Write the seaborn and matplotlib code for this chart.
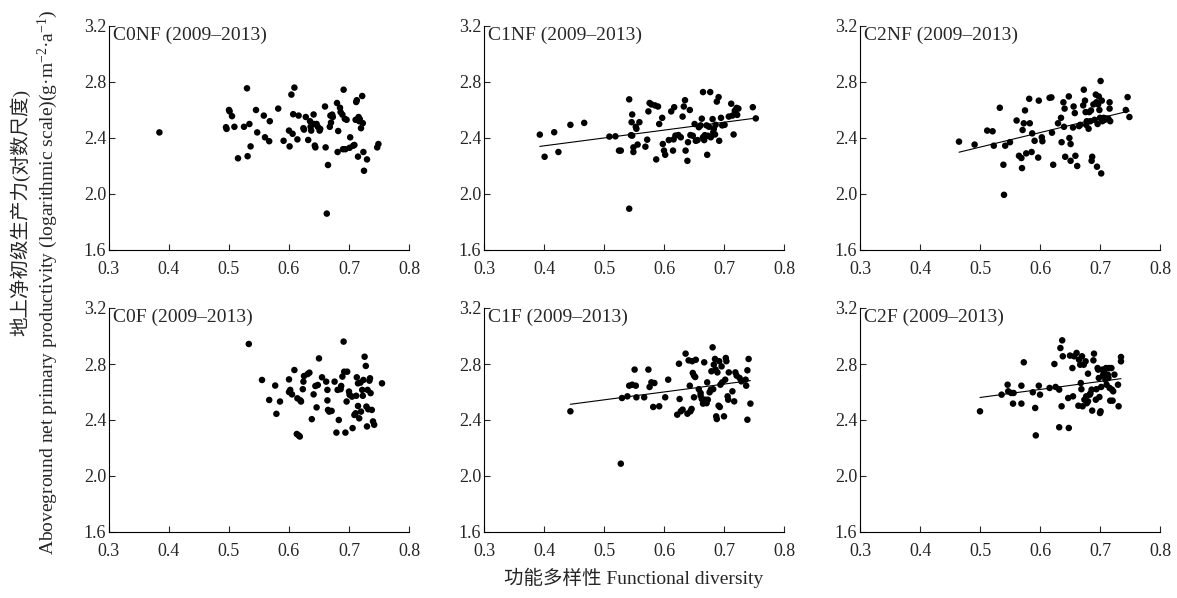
import matplotlib
matplotlib.use("Agg")
import matplotlib.pyplot as plt
import seaborn as sns

# functional diversity (x) and log ANPP (y) for each treatment
c0nf_fd = [0.384, 0.495, 0.496, 0.500, 0.501, 0.505, 0.509, 0.515, 0.525, 0.530, 0.531, 0.534, 0.536,
           0.545, 0.547, 0.558, 0.560, 0.567, 0.568, 0.582, 0.591, 0.600, 0.601, 0.604, 0.606, 0.607,
           0.609, 0.614, 0.616, 0.624, 0.625, 0.628, 0.632, 0.635, 0.636, 0.637, 0.641, 0.642, 0.643,
           0.644, 0.646, 0.648, 0.651, 0.652, 0.660, 0.661, 0.663, 0.665, 0.668, 0.669, 0.670, 0.672,
           0.673, 0.680, 0.681, 0.682, 0.685, 0.686, 0.689, 0.690, 0.691, 0.693, 0.694, 0.696, 0.701,
           0.702, 0.707, 0.709, 0.711, 0.712, 0.713, 0.715, 0.716, 0.717, 0.718, 0.720, 0.722, 0.723,
           0.724, 0.725, 0.730, 0.747, 0.749]
c0nf_anpp = [2.440, 2.477, 2.465, 2.600, 2.590, 2.556, 2.480, 2.255, 2.480, 2.755, 2.270, 2.500, 2.340,
             2.600, 2.440, 2.560, 2.405, 2.377, 2.520, 2.610, 2.380, 2.453, 2.340, 2.710, 2.430, 2.570,
             2.760, 2.390, 2.560, 2.470, 2.460, 2.550, 2.386, 2.520, 2.480, 2.453, 2.568, 2.500, 2.346,
             2.333, 2.500, 2.480, 2.453, 2.465, 2.625, 2.333, 1.860, 2.207, 2.480, 2.560, 2.510, 2.567,
             2.550, 2.650, 2.300, 2.450, 2.616, 2.585, 2.567, 2.320, 2.745, 2.537, 2.320, 2.530, 2.330,
             2.405, 2.345, 2.350, 2.530, 2.657, 2.670, 2.267, 2.550, 2.520, 2.535, 2.470, 2.700, 2.506,
             2.300, 2.166, 2.247, 2.333, 2.357]

c1nf_fd = [0.393, 0.401, 0.417, 0.424, 0.444, 0.467, 0.509, 0.519, 0.525, 0.528, 0.542, 0.542, 0.546,
           0.547, 0.545, 0.547, 0.549, 0.549, 0.553, 0.554, 0.556, 0.559, 0.569, 0.572, 0.574, 0.576,
           0.579, 0.585, 0.587, 0.590, 0.592, 0.597, 0.598, 0.600, 0.602, 0.608, 0.612, 0.615, 0.617,
           0.616, 0.619, 0.624, 0.628, 0.631, 0.633, 0.635, 0.636, 0.639, 0.640, 0.643, 0.644, 0.648,
           0.651, 0.653, 0.656, 0.658, 0.661, 0.663, 0.665, 0.665, 0.667, 0.668, 0.671, 0.672, 0.673,
           0.675, 0.677, 0.678, 0.681, 0.682, 0.683, 0.685, 0.686, 0.688, 0.691, 0.692, 0.695, 0.697,
           0.701, 0.708, 0.712, 0.714, 0.716, 0.718, 0.721, 0.722, 0.724, 0.748, 0.753]
c1nf_anpp = [2.424, 2.266, 2.441, 2.300, 2.494, 2.508, 2.410, 2.412, 2.310, 2.310, 2.676, 1.895, 2.513,
             2.568, 2.420, 2.417, 2.333, 2.300, 2.480, 2.466, 2.353, 2.513, 2.338, 2.388, 2.590, 2.650,
             2.640, 2.633, 2.247, 2.625, 2.500, 2.544, 2.357, 2.310, 2.280, 2.385, 2.590, 2.310, 2.620,
             2.390, 2.417, 2.421, 2.405, 2.553, 2.625, 2.670, 2.310, 2.237, 2.370, 2.600, 2.421, 2.416,
             2.500, 2.380, 2.385, 2.477, 2.490, 2.538, 2.728, 2.405, 2.385, 2.420, 2.490, 2.280, 2.416,
             2.480, 2.728, 2.405, 2.535, 2.440, 2.465, 2.425, 2.494, 2.660, 2.692, 2.380, 2.544, 2.490,
             2.494, 2.553, 2.645, 2.560, 2.425, 2.595, 2.615, 2.565, 2.610, 2.620, 2.540]

c2nf_fd = [0.465, 0.491, 0.512, 0.521, 0.523, 0.533, 0.539, 0.540, 0.542, 0.550, 0.561, 0.565, 0.569,
           0.570, 0.571, 0.573, 0.575, 0.577, 0.582, 0.583, 0.586, 0.587, 0.591, 0.597, 0.598, 0.603,
           0.604, 0.616, 0.619, 0.620, 0.622, 0.630, 0.635, 0.636, 0.639, 0.640, 0.641, 0.642, 0.648,
           0.649, 0.651, 0.651, 0.655, 0.656, 0.658, 0.659, 0.662, 0.665, 0.667, 0.672, 0.673, 0.675,
           0.676, 0.677, 0.678, 0.681, 0.682, 0.684, 0.685, 0.686, 0.687, 0.689, 0.691, 0.693, 0.694,
           0.695, 0.696, 0.697, 0.698, 0.699, 0.700, 0.701, 0.702, 0.703, 0.704, 0.706, 0.708, 0.710,
           0.714, 0.716, 0.716, 0.717, 0.743, 0.746, 0.749]
c2nf_anpp = [2.374, 2.353, 2.453, 2.448, 2.345, 2.616, 2.209, 1.994, 2.345, 2.370, 2.525, 2.273, 2.257,
             2.185, 2.457, 2.505, 2.597, 2.290, 2.680, 2.505, 2.300, 2.433, 2.380, 2.260, 2.667, 2.405,
             2.377, 2.687, 2.690, 2.438, 2.209, 2.505, 2.544, 2.370, 2.655, 2.480, 2.610, 2.266, 2.697,
             2.400, 2.357, 2.237, 2.475, 2.625, 2.578, 2.273, 2.200, 2.485, 2.494, 2.633, 2.745, 2.667,
             2.585, 2.494, 2.520, 2.466, 2.585, 2.520, 2.597, 2.237, 2.266, 2.640, 2.530, 2.710, 2.655,
             2.195, 2.500, 2.640, 2.697, 2.600, 2.544, 2.807, 2.147, 2.667, 2.520, 2.544, 2.530, 2.540,
             2.537, 2.610, 2.655, 2.520, 2.600, 2.692, 2.550]

c0f_fd = [0.533, 0.555, 0.567, 0.577, 0.579, 0.585, 0.600, 0.600, 0.602, 0.605, 0.609, 0.613, 0.614,
          0.616, 0.618, 0.619, 0.620, 0.623, 0.624, 0.625, 0.631, 0.634, 0.638, 0.641, 0.644, 0.646,
          0.648, 0.650, 0.655, 0.662, 0.664, 0.664, 0.665, 0.667, 0.671, 0.676, 0.679, 0.681, 0.683,
          0.686, 0.687, 0.689, 0.691, 0.692, 0.694, 0.696, 0.697, 0.700, 0.701, 0.705, 0.706, 0.709,
          0.711, 0.712, 0.713, 0.715, 0.715, 0.717, 0.719, 0.720, 0.722, 0.723, 0.724, 0.726, 0.728,
          0.729, 0.730, 0.731, 0.732, 0.734, 0.735, 0.736, 0.738, 0.740, 0.742, 0.755]
c0f_anpp = [2.943, 2.686, 2.543, 2.646, 2.444, 2.532, 2.690, 2.600, 2.615, 2.583, 2.757, 2.300, 2.555,
            2.290, 2.282, 2.540, 2.532, 2.620, 2.674, 2.714, 2.728, 2.738, 2.406, 2.583, 2.643, 2.490,
            2.650, 2.840, 2.705, 2.674, 2.615, 2.540, 2.472, 2.460, 2.465, 2.674, 2.310, 2.615, 2.400,
            2.620, 2.643, 2.710, 2.960, 2.745, 2.310, 2.532, 2.745, 2.603, 2.580, 2.567, 2.342, 2.436,
            2.448, 2.573, 2.705, 2.500, 2.662, 2.412, 2.667, 2.460, 2.615, 2.573, 2.686, 2.852, 2.786,
            2.496, 2.354, 2.615, 2.477, 2.681, 2.698, 2.592, 2.472, 2.390, 2.366, 2.662]

c1f_fd = [0.444, 0.528, 0.530, 0.539, 0.542, 0.547, 0.551, 0.553, 0.554, 0.567, 0.574, 0.576, 0.579,
          0.582, 0.584, 0.592, 0.602, 0.607, 0.622, 0.625, 0.626, 0.628, 0.631, 0.636, 0.639, 0.641,
          0.643, 0.644, 0.646, 0.647, 0.648, 0.650, 0.652, 0.653, 0.650, 0.658, 0.661, 0.661, 0.663,
          0.665, 0.667, 0.668, 0.671, 0.672, 0.673, 0.676, 0.678, 0.679, 0.681, 0.682, 0.683, 0.685,
          0.686, 0.687, 0.688, 0.689, 0.691, 0.692, 0.693, 0.694, 0.696, 0.697, 0.700, 0.702, 0.703,
          0.704, 0.706, 0.707, 0.708, 0.714, 0.717, 0.719, 0.721, 0.726, 0.729, 0.736, 0.737, 0.739,
          0.739, 0.741, 0.744]
c1f_anpp = [2.462, 2.088, 2.557, 2.569, 2.645, 2.652, 2.760, 2.645, 2.562, 2.562, 2.760, 2.636, 2.669,
            2.493, 2.664, 2.498, 2.562, 2.688, 2.438, 2.802, 2.550, 2.462, 2.474, 2.874, 2.445, 2.826,
            2.645, 2.462, 2.479, 2.820, 2.736, 2.717, 2.707, 2.830, 2.562, 2.620, 2.593, 2.574, 2.550,
            2.517, 2.812, 2.545, 2.520, 2.669, 2.545, 2.598, 2.617, 2.748, 2.919, 2.620, 2.795, 2.836,
            2.760, 2.426, 2.407, 2.740, 2.502, 2.820, 2.493, 2.652, 2.783, 2.669, 2.426, 2.688, 2.843,
            2.820, 2.569, 2.545, 2.740, 2.605, 2.533, 2.740, 2.717, 2.700, 2.676, 2.688, 2.645, 2.755,
            2.402, 2.836, 2.517]

c2f_fd = [0.500, 0.536, 0.546, 0.547, 0.552, 0.555, 0.556, 0.569, 0.569, 0.573, 0.588, 0.592, 0.593,
          0.598, 0.600, 0.616, 0.624, 0.626, 0.632, 0.632, 0.634, 0.636, 0.637, 0.638, 0.647, 0.648,
          0.650, 0.654, 0.655, 0.657, 0.661, 0.664, 0.665, 0.667, 0.668, 0.669, 0.670, 0.671, 0.673,
          0.674, 0.676, 0.677, 0.678, 0.680, 0.680, 0.683, 0.684, 0.686, 0.687, 0.689, 0.690, 0.693,
          0.694, 0.696, 0.697, 0.698, 0.699, 0.700, 0.701, 0.702, 0.704, 0.705, 0.706, 0.707, 0.709,
          0.710, 0.711, 0.713, 0.714, 0.715, 0.716, 0.717, 0.719, 0.720, 0.721, 0.722, 0.724, 0.730,
          0.731, 0.735, 0.735]
c2f_anpp = [2.462, 2.581, 2.652, 2.605, 2.593, 2.517, 2.593, 2.517, 2.645, 2.812, 2.598, 2.486, 2.290,
            2.645, 2.581, 2.629, 2.800, 2.636, 2.617, 2.348, 2.914, 2.498, 2.969, 2.855, 2.557, 2.343,
            2.860, 2.771, 2.569, 2.855, 2.879, 2.502, 2.831, 2.795, 2.664, 2.620, 2.855, 2.498, 2.795,
            2.545, 2.819, 2.569, 2.520, 2.731, 2.533, 2.581, 2.590, 2.617, 2.467, 2.826, 2.874, 2.545,
            2.620, 2.771, 2.760, 2.700, 2.564, 2.450, 2.462, 2.636, 2.760, 2.717, 2.731, 2.748, 2.688,
            2.771, 2.652, 2.724, 2.700, 2.771, 2.629, 2.538, 2.771, 2.617, 2.538, 2.605, 2.724, 2.652,
            2.498, 2.850, 2.819]

panels = [
    ("C0NF (2009–2013)", c0nf_fd, c0nf_anpp, False),
    ("C1NF (2009–2013)", c1nf_fd, c1nf_anpp, True),
    ("C2NF (2009–2013)", c2nf_fd, c2nf_anpp, True),
    ("C0F (2009–2013)", c0f_fd, c0f_anpp, False),
    ("C1F (2009–2013)", c1f_fd, c1f_anpp, True),
    ("C2F (2009–2013)", c2f_fd, c2f_anpp, True),
]

x_ticks = [0.3, 0.4, 0.5, 0.6, 0.7, 0.8]
y_ticks = [1.6, 2.0, 2.4, 2.8, 3.2]

sns.set_style("ticks")
plt.rcParams["font.family"] = ["Liberation Serif", "Noto Sans CJK SC"]
plt.rcParams["mathtext.fontset"] = "custom"
plt.rcParams["mathtext.rm"] = "Liberation Serif"
plt.rcParams["mathtext.it"] = "Liberation Serif:italic"

fig = plt.figure(figsize=(11.77, 5.98), dpi=100)

W, H = 1177, 598
lefts = [109, 484, 860]
tops = [26, 308]
aw, ah = 300, 224

for i, (title, fd, anpp, fit) in enumerate(panels):
    row, col = divmod(i, 3)
    ax = fig.add_axes([lefts[col] / W, 1 - (tops[row] + ah) / H, aw / W, ah / H])
    sns.scatterplot(x=fd, y=anpp, ax=ax, color="black", s=22, edgecolor="none")
    if fit:
        sns.regplot(x=fd, y=anpp, ax=ax, scatter=False, ci=None,
                    line_kws={"color": "black", "lw": 0.8})
    ax.set_xlim(0.3, 0.8)
    ax.set_ylim(1.6, 3.2)
    ax.set_xticks(x_ticks)
    ax.set_xticklabels([f"{v:.1f}" for v in x_ticks])
    ax.set_yticks(y_ticks)
    ax.set_yticklabels([f"{v:.1f}" for v in y_ticks])
    ax.tick_params(direction="in", length=4, width=0.8, labelsize=13)
    ax.tick_params(axis="x", pad=8)
    ax.tick_params(axis="y", pad=2)
    sns.despine(ax=ax)
    for sp in ["left", "bottom"]:
        ax.spines[sp].set_linewidth(0.8)
        ax.spines[sp].set_color("black")
    ax.set_xlabel("")
    ax.set_ylabel("")
    ax.text(0.012, 0.995, title, transform=ax.transAxes, ha="left", va="top", fontsize=14)

fig.text(20 / W, 1 - 212 / H, "地上净初级生产力(对数尺度)", rotation=90,
         ha="center", va="center", fontsize=14)
fig.text(48 / W, 1 - 282 / H,
         "Aboveground net primary productivity (logarithmic scale)(g·m$^{-2}$·a$^{-1}$)",
         rotation=90, ha="center", va="center", fontsize=14)
fig.text(634 / W, 1 - 578 / H, "功能多样性 Functional diversity", ha="center", va="center", fontsize=14)

fig.savefig("out.png", dpi=100)
